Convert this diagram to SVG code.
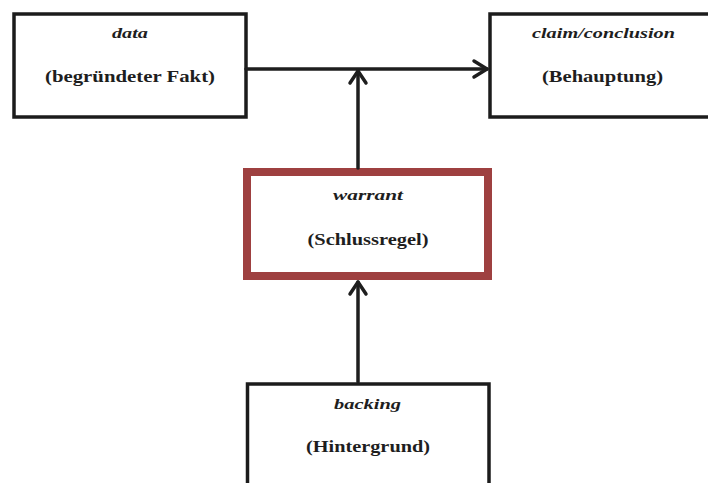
<svg xmlns="http://www.w3.org/2000/svg" width="708" height="483" viewBox="0 0 708 483">
<style>
.box{fill:#fff;stroke:#1c1c1c;stroke-width:3.5}
.warr{fill:#fff;stroke:#9e4040;stroke-width:8}
.t{font-family:"Liberation Serif","Times New Roman",serif;font-weight:bold;fill:#1e1e1e;text-anchor:middle}
.i{font-style:italic;font-size:15.5px}
.n{font-size:17.5px}
.c{stroke:#1e1e1e;stroke-width:3.5;fill:none;stroke-linecap:round;stroke-linejoin:round}
</style>
<rect width="708" height="483" fill="#fff"/>
<g id="data">
<rect class="box" x="14" y="14" width="232" height="103"/>
<text class="t i" x="130" y="38" textLength="36" lengthAdjust="spacingAndGlyphs">data</text>
<text class="t n" x="130" y="82" textLength="170" lengthAdjust="spacingAndGlyphs">(begründeter Fakt)</text>
</g>
<g id="claim">
<rect class="box" x="490" y="14" width="240" height="103"/>
<text class="t i" x="603.5" y="38" textLength="143" lengthAdjust="spacingAndGlyphs">claim/conclusion</text>
<text class="t n" x="602.5" y="82" textLength="121" lengthAdjust="spacingAndGlyphs">(Behauptung)</text>
</g>
<g id="warrant">
<rect class="warr" x="247" y="172" width="241" height="104"/>
<text class="t i" x="368" y="200" textLength="70" lengthAdjust="spacingAndGlyphs">warrant</text>
<text class="t n" x="368" y="245" textLength="121" lengthAdjust="spacingAndGlyphs">(Schlussregel)</text>
</g>
<g id="backing">
<rect class="box" x="247.5" y="384" width="241.5" height="120"/>
<text class="t i" x="367.5" y="409" textLength="67" lengthAdjust="spacingAndGlyphs">backing</text>
<text class="t n" x="368" y="452" textLength="124" lengthAdjust="spacingAndGlyphs">(Hintergrund)</text>
</g>
<g id="connectors">
<path class="c" d="M246 69 H487"/>
<path class="c" d="M474 61 L487 69 L474 77"/>
<path class="c" d="M358 168 V71"/>
<path class="c" d="M350 83 L358 71 L366 83"/>
<path class="c" d="M358 382 V282"/>
<path class="c" d="M350 294 L358 282 L366 294"/>
</g>
</svg>
